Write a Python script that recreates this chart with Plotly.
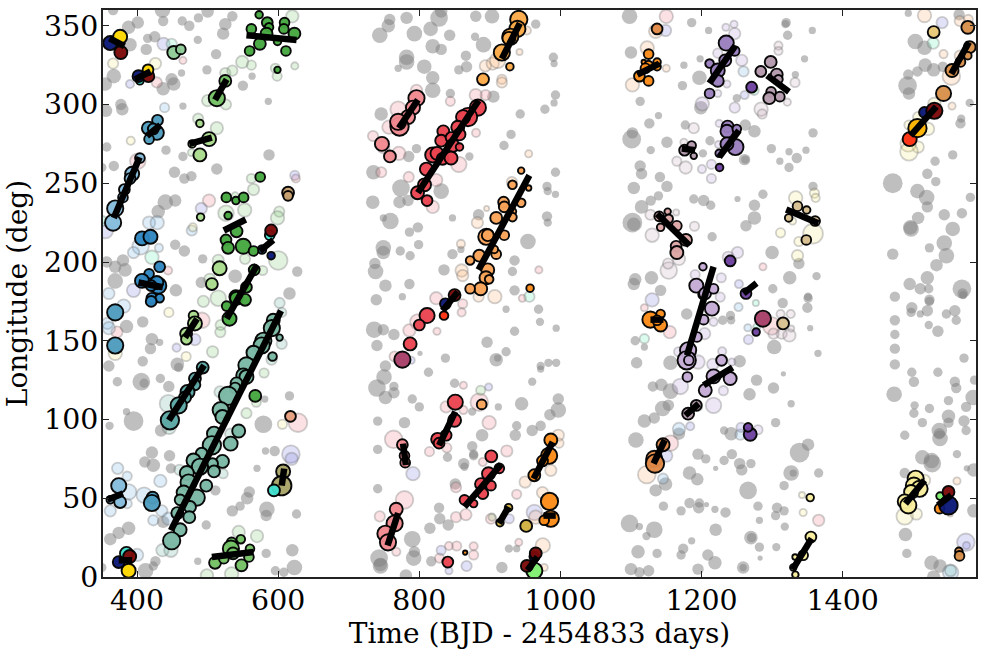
import plotly.graph_objects as go

# every entry: (time BJD-2454833, longitude deg, spot size)
GRAY = [
(366,360,10),(401,352,12),(388,349,13),(436,360,15),(437,353,10),(464,353,9),(474,350,10),(487,355,9),(500,359,12),(535,356,10),(525,351,12),(522,345,12),(415,342,9),(425,343,11),(390,338,13),(413,335,11),(486,341,8),(512,332,10),(499,322,9),(463,320,7),(449,316,12),(452,313,13),(437,310,13),(367,318,14),(355,313,13),(465,299,7),(377,300,11),(379,297,12),(356,296,12),(550,312,10),(563,318,7),(586,302,7),(441,271,9),(465,267,9),(357,273,9),(350,260,9),(367,261,10),(453,257,11),(467,253,10),(477,254.5,10),(513,259,11),(587,268,11),(454,239,12),(440,238,15),(430,232,13),(454,211,10),(467,207,11),(493,202,9),(539,191,13),(491,187,11),(455,182,12),(627,194,10),(616,180,12),(380,201,12),(383,195,13),(369,197,12),(357,200,11),(369,188,15),
(408,162,11),(385,159,13),(421,151,12),(432,149,7),(419,145,11),(408,137,10),(457,135,13),(459,133,9),(360,134,11),(372,124,9),(406,124,17),(410,123,9),(433,126,9),(445,121,11),(385,105,7),(395,99,19),(361,96,8),(434,93,12),(616,115,9),(581,113,7),(579,97,17),(421,79,12),(411,73,11),(423,71,13),(446,77,11),(448,69,10),(582,80,7),(595,80,10),(570,69,7),(511,55,10),(559,54,11),(556,50,12),(546,45,9),(535,42,11),(584,43,15),(583,39,11),(626,40,9),(437,35,12),(388,31,13),(374,28,12),(362,24,12),(498,33,9),(426,10,10),(412,4,15),(423,7,9),(583,15,9),(620,17,12),(623,6,15),(486,10,7),(596,4,9),(608,3,9),(350,6,9),
(758,354,11),(756,350,13),(744,344,15),(782,355,12),(793,345,15),(816,348,14),(828,355,17),(831,359,12),(843,344,11),(880,356,11),(903,356,14),(879,343,8),(891,338,15),(965,351,9),(819,337,14),(831,335,11),(782,330,15),(782,327,15),(807,324,14),(770,323,7),(866,331,10),(867,324,11),(856,322,9),(819,317,13),(819,309,15),(990,330,9),(991,326,7),(746,294,13),(844,307,9),(905,305,12),(993,306,9),(991,301,7),(978,297,9),(943,294,9),(796,272,9),(785,267,11),(871,267,8),(920,274,9),(930,281,9),(993,257,9),(735,257,14),(774,247,17),(831,245,15),(981,248,9),(982,245,8),(993,243,7),(734,238,13),(772,238,12),(784,239,11),(847,228,7),(884,230,11),(759,226,16),(749,228,7),(981,229,10),(982,225,8),(786,219,9),(798,222,10),(954,213,15),(749,209,15),(749,206,13),(773,207,9),(787,204,9),(799,211,9),(847,205,10),(859,208,7),(935,201,10),(737,199,11),(738,194,15),(932,194,9),(835,195,11),(752,185,12),(786,186,10),(935,182,10),(776,178,7),(739,176,11),
(969,170,9),(923,170,7),(971,162,8),(994,158,7),(736,157,16),(749,157,11),(764,154,11),(740,147,11),(935,156,9),(896,149,11),(923,143,9),(801,142,5),(837,139,9),(909,138,13),(911,139,7),(752,134,11),(750,127,15),(813,130,9),(972,134,8),(972,132,7),(983,136,8),(994,136,8),(960,124,8),(740,120,17),(764,121,9),(764,117,11),(752,114,13),(850,123,9),(790,113,9),(800,108,9),(945,110,13),(997,113,11),(997,106,15),(985,103,11),(912,108,7),(875,105,8),(741,99,9),(779,98,11),(972,96,10),(960,93,11),(938,96,9),(936,90,11),(889,90,12),(741,81,9),(840,76,9),(875,83,10),(877,78,9),(877,77,9),(863,72,11),(864,70,8),(851,59,11),(741,56,9),(828,44,10),(829,37,11),(841,33,11),(815,31,11),(790,24,16),(793,16,11),(792,12,15),(743,12,17),(745,8,13),(745,7,15),(817,10,10),(927,18,8),(938,18,7),(917,6,11),(781,1,12),
(1098,356,15),(1186,352,9),(1210,347,7),(1320,352,9),(1319,351,8),(1322,344,9),(1357,347,7),(1100,333,12),(1198,329,7),(1346,329,7),(1175,325,7),(1197,317,14),(1173,312,9),(1333,319,7),(1113,302,9),(1199,298,13),(1250,304,8),(1139,293,7),(1126,288,10),(1102,282,11),(1101,278,18),(1177,287,9),(1151,276,11),(1128,271,8),(1212,277,9),(1202,269,8),(1275,283,12),(1262,287,11),(1261,265,11),(1262,265,8),(1358,282,9),(1299,272,9),(1311,264,7),(1324,270,7),(1335,266,10),(1348,271,7),(1324,260,9),(1113,261,11),(1115,256,11),(1141,254,10),(1151,248,11),(1104,247,12),(1128,239,10),(1139,242,9),(1115,235,13),(1189,240,9),(1203,239,11),(1213,236,9),(1251,240,6),(1287,243,9),(1275,236,11),(1275,228,13),(1263,223,11),(1102,225,19),(1104,224,13),(1215,216,9),(1358,248,9),(1300,206,13),(1338,199,11),(1325,190,13),(1363,191,8),(1106,189,12),(1104,186,12),(1129,190,13),(1142,182,11),(1301,183,9),(1351,178,8),
(1315,174,10),(1351,177,9),(1350,171,10),(1354,158,6),(1179,167,11),(1241,166,9),(1242,163,8),(1230,163,9),(1303,146,14),(1106,150,9),(1119,146,7),(1365,142,7),(1108,136,11),(1156,136,14),(1254,137,12),(1316,129,5),(1131,121,10),(1143,122,12),(1156,118,15),(1278,125,11),(1302,120,11),(1268,116,12),(1327,110,7),(1145,107,15),(1153,109,11),(1133,101,11),(1119,99,13),(1305,98,9),(1168,91,12),(1107,87,15),(1232,93,8),(1242,91,13),(1195,78,11),(1206,75,9),(1243,78,10),(1232,74,9),(1270,72,9),(1254,72,11),(1257,68,11),(1220,69,5),(1339,79,19),(1351,84,12),(1327,66,15),(1330,66,7),(1366,66,9),(1183,66,13),(1194,62,12),(1135,55,12),(1149,59,13),(1266,55,17),(1317,58,9),(1183,47,10),(1197,47,9),(1196,44,11),(1207,46,5),(1146,45,9),(1171,42,9),(1219,43,7),(1234,41,10),(1280,45,9),(1307,44,10),(1317,42,9),(1305,39,9),(1282,36,7),(1318,32,8),(1098,34,17),(1112,32,7),(1133,30,16),(1122,26,8),(1186,23,7),(1220,30,12),(1270,25,13),(1271,25,9),(1282,19,9),(1306,19,8),(1283,12,5),(1110,16,13),(1137,15,9),(1174,18,10),(1171,14,9),(1209,14,11),(1219,9,13),(1100,5,12),(1112,3,10),(1125,4,11),(1195,5,11),(1259,6,12),(1259,6,7),
(1493,358,7),(1503,340,15),(1516,336,14),(1565,357,11),(1517,325,13),(1529,322,13),(1542,324,10),(1506,321,10),(1493,319,10),(1492,312,18),(1494,307,12),(1580,301,8),(1568,291,8),(1567,288,10),(1556,268,9),(1531,264,9),(1520,256,10),(1532,251,9),(1471,250,19),(1506,245,14),(1519,241,15),(1520,235,11),(1581,241,9),(1569,231,10),(1507,228,12),(1544,230,11),(1496,222,14),(1497,221,15),(1556,221,14),(1544,212,15),(1523,209,9),(1547,204,15),(1471,205,11),(1533,198,12),(1520,190,13),(1495,186,12),(1510,183,11),(1522,183,9),(1569,183,18),(1570,180,10),(1571,179,8),(1474,178,10),(1523,176,10),
(1498,171,11),(1497,168,9),(1510,167,7),(1520,169,11),(1523,175,9),(1547,167,9),(1559,169,11),(1561,163,9),(1522,160,8),(1535,156,11),(1474,163,10),(1474,154,9),(1474,145,10),(1474,135,10),(1572,139,9),(1498,130,9),(1535,130,9),(1501,124,10),(1559,124,10),(1561,120,10),(1473,116,15),(1587,125,9),(1585,114,15),(1550,112,9),(1575,108,10),(1502,109,8),(1523,107,9),(1501,104,9),(1550,102,13),(1550,98,10),(1572,99,11),(1513,98,9),(1575,93,9),(1488,90,9),(1537,93,15),(1538,88,15),(1537,91,11),(1562,78,8),(1513,76,14),(1526,74,15),(1527,72,17),(1576,69,6),(1586,68,13),(1488,66,10),(1586,42,13),(1489,27,13),(1491,15,9),(1526,9,14),(1538,7,13),(1529,0,13),
]

FAINT_PINK = [(401,264,15),(428,314,10),(465,328,7),(502,239,12),(625,253,8),(371.5,155.5,11),(492,163,15),(444,194.6,8),(628,98,18),(770,297,15),(796,309,11),(757,285.6,13),(844,302,9),(734.4,280,10),(749,273,12),(771,269,13),(746,257,10),(785,254,10),(819,235,12),(824,252,12),(856,262,15),(880.4,282,8),(880,306,12),(894,306,10),(786,156.6,12),(798,162,15),(765,140,10),(861.5,173.5,9),(860,168,8),(825,156,7),(838,108,11),(862.5,106,8),(862.5,121.7,7),(763.6,87.4,17),(839,82,9),(814.4,79.6,9),(899,98,13),(885,111,17),(924,80,11),(890,73,8),(852,57,10),(852,38,10),(866,39.6,11),(877,19.5,8),(779,49,17),(744,38.5,10),(767.4,16,8),(901.6,37,10),(938,52.5,9),(941,22,7),(842,19.7,8),(853,19.7,9),(828.6,12,9),(877,14,9),(946,177,7),(969.4,195,7),(1150,356,13),(1155,155.5,12),(1119,171,7),(1156,85,15),(1287,197,7),(1299.5,159.4,17),(1284,321,10),(1366,36,11),(824,177,12)]
FAINT_ROSE = [(1189,285,10),(1175,276,7),(1165,264,9),(1177.5,260,12),(1127.6,230,10),(1164,231.4,6),(1190,222.7,9),(1130,217,13),(1168,202,12),(1153.5,194.6,16),(1152.6,199,10),(1309,337.4,8),(1309,334,8),(1332.5,314,9),(1321.6,301.5,7),(1284.4,297,13),(1286,294,9),(1313.6,154.5,10),(1324.5,153.4,12),(1312,167,8),(1326.4,167,8),(1327,157.7,6),(1302,154.5,10)]
FAINT_BLUE = [(439,298,9),(405,210,16),(395,206,11),(417,225,12),(428.5,225,13),(431,209,8),(360,180,11),(381,172,13),(477.5,220,10),(372.5,69,11),(386,64,9),(388,54,15),(362,42,11),(386,46.6,9),(410,52,15),(400,14,12),(433,61,12),(435,42,11),(423,36,10),(444.5,37,12),(1259.5,321,10),(1252.4,171.4,8),(1265.6,158.3,7),(1168,94,12),(1255,90.4,10),(1553,3,15),(1145.5,62.4,10),(358,161,11),(360,158,12)]
FAINT_LAV = [(355,220,15),(395,182,13),(437.5,338.5,12),(390,313,8),(491,234,11),(623.5,255,9),(482,150.7,11),(456,145.6,8),(618,78,17),(619,75,12),(788.5,137.6,7),(898.3,120.6,7),(791,65.6,13),(927.5,37,9),(963,41,15),(831,17,9),(867,7,10),(842,4,7),(1149,347,11),(1261,306,8),(1253,186,8),(1130,176,13),(1266.5,150.7,9),(1184,95.7,8),(1256,95,9),(1150,77,12),(1541,352,11),(1574.6,22,17),(1575.5,20,7)]
FAINT_YELLOW = [(391,277,8),(366,326,10),(426,326,11),(479,222,8),(369,142,13),(445,168,9),(469.5,140,9),(606,97,9),(1342.4,52,6),(1344,41,7),(1494,287,9),(1507,292,10),(1521,284.5,12),(1507,273,11),(1493,275,15),(1494,270,17),(1530,300.4,12),(1516,61.4,11),(1488,38.5,16),(1504.4,40,11),(1333.4,240.7,13),(1360,243.7,9),(1361.7,240.7,8),(1329,226,7),(1358,218,19),(1312,218.5,9),(1338,213,9),(1336,204,11)]
FAINT_MINT = [(350,226,10),(449,338.5,10),(421,203,13),(956,178,10),(1274.5,309,9),(1277,174,6),(1278.3,158.7,7),(1119,151.3,9),(1195,108,8),(1528.4,339,11)]
FAINT_GREEN = [(500,302.5,11),(526,300,10),(525,320,10),(535,321.5,10),(549,327,12),(562,325,9),(620,356,12),(596,323,9),(598.5,318,9),(623.5,324.5,7),(486.5,291,10),(513,285,12),(477,269.5,7),(526,231,15),(552.5,233,13),(565,246,11),(562,253,9),(539,242,7),(601.5,232,10),(599,228,13),(600,201,18),(553,202,10),(515,201,11),(503,189,11),(515,177,15),(578,194.6,9),(494,175,11),(518.5,160,10),(518,155.5,10),(507,143,11),(555,104,10),(569,111,9),(580,129.5,9),(544,28.6,12),(570,26,12),(534,2,13),(499,1,12),(887,118.5,9),(903,38,7)]
FAINT_TEAL = [(444.5,110,17),(445.5,95,13),(602,174,10),(605,168,9),(605,148,10),(590.6,138,10),(517.6,117.5,11),(532,91,10),(460,68,10),(522,65.6,9),(436,17,12),(448,17,13),(1553,4,11)]
FAINT_PEACH = [(952.4,347,8),(942,333.4,6),(893.6,324.5,11),(904,326,12),(911,328,15),(917,316,9),(917,314,10),(931.2,250.7,10),(895.4,234,5),(882.3,225,11),(859,211.5,8),(860,194.6,12),(861.5,191.4,11),(955,268.7,7),(907,178,13),(884,178,10),(997,90,11),(998,85,9),(986.4,67.7,11),(950,60.3,11),(974.6,53.6,11),(965,38,13),(975,20,14),(977,6,7),(1135,346.5,13),(1123,336,13),(1102,312.5,13),(1150,323,7),(1122.4,65,17),(1543,332,8),(1566,353,10),(1578,354,9),(1554,318,17),(1566,331,10),(1555,299,7),(1562,61,7),(1552.5,40,5),(1516,356.5,13)]
FAINT_PURPLE = [(1247,345,11),(1234.5,349,7),(1246,351,7),(1223,332.6,9),(1257,328,11),(1236,313,7),(1223,307,7),(1201,300.4,13),(1247,298,10),(1225,288,7),(1224,274.6,7),(1214,262,9),(1200.6,259,8),(1214,253,9),(1251,206,11),(1238,203,11),(1191,192,9),(1228,190,9),(1226.5,177.7,9),(1217,162,8),(1204.4,154.5,11),(1167.6,143,9),(1195,136.5,13),(1216,135,11),(1229.3,143.3,8),(1243,136.5,7),(1231,118.3,9),(1170,121,15),(1217,109,15),(1280,93.5,9)]

YELLOW = [(376,343,13),(415.5,322,10),(388,4,13)]
NAVY = [(362,339,13),(402,318,11),(590,204,7),(374,9.5,11),(837,173.5,10),(963,13,9),(1516,295,10),(1550,45.5,17)]
DARKRED = [(377,333,12),(416,318,11),(590,220,11),(389.5,13,12),(850,179,11),(965,15,11),(952.4,7,11),(1530,296,15),(1550,54,11)]
TURQUOISE = [(404,315,7),(588,217,9),(385,15,12),(594,55,11)]
MINTGREEN = [(452,333,12),(462,335,9)]
SKY = [(404,266,9),(393,256,13),(390,253,10),(382,246,10),(380,241,9),(369,234,15),(366,225,15),(374,58,14),(362,49,7),(376,47.6,11)]
STEEL = [(369,168,15),(369,147,15),(429,290,10),(416,285,12),(428,282,13),(417,278,9),(423,284.5,10),(422,50.4,11),(421,47,15)]
BLUE = [(407,215,13),(419,216,13),(432,197,10),(417,192.5,9),(407,188,13),(430,185,15),(428,187,12),(420,185,10),(421,177,10),(432,177,8),(420,175,10),(577,208,8)]
PALEGREEN = [(489,288,7),(502,278,13),(478,275,7),(489,268,12),(490,228.5,7),(517,196,13),(506,186,11),(480,166,9),(482,161,13),(469.5,154.5,11),(470,151,10)]
MIDGREEN = [(513,304,15),(525,315,11),(534,22,9),(547,24,8),(533,18,15),(536,15,11),(560,18,8),(510.5,9,11),(523,11.6,9),(548,7.4,11),(558.5,12.7,9)]
GREEN = [(573,357,7),(562,348,9),(584.5,352,10),(587,349,8),(609,352,9),(608,348,9),(623,345,11),(583.5,345,11),(574,338.5,11),(559.5,334,9),(599,340,7),(611,334,9),(599,322,6),(574.5,254,9),(526.5,241,9),(540,239,7),(551,241,9),(529,229.5,7),(541,219.5,11),(526,214,10),(529,209,11),(550.5,210,14),(565,207,9),(566,195,10),(540,178,12),(555,184,10),(527,172,9),(541,177,12),(553,176,11),(531,164,13),(567.5,115,11)]
TAN_LEFT = [(614,244,11),(614,242,9)]
TEAL = [(493,133,11),(482,126,11),(482,122,10),(471.5,117.5,13),(468,114,11),(459,109,15),(446.5,99.5,17)]
SEAGREEN = [(593,163,12),(591,158,15),(602,152,6),(579,150,15),(576.5,147,15),(565,142.4,13),(592,140,8),(555,134.4,15),(550.5,128,13),(555,127,13),(541,123,11),(539,120,10),(529,115,17),(518.5,106,15),(521,101.6,13),(544,92.7,12),(509,91,13),(532.6,84.7,13),(506,83.6,17),(491.6,78.3,11),(480,74,13),(521,73.4,12),(507,72,10),(489,70,15),(509,67,11),(470.5,66,13),(473,60,15),(498,58,11),(466,53.6,13),(484.6,50.4,15),(461,49,10),(475,44.5,11),(457,40.6,11),(474,38,11),(461,30,12),(449,23,16)]
SALMON = [(617.4,102,10)]
OLIVE = [(607,67,13),(605,58,18)]
PINK = [(796,304,15),(791,298,13),(784,292,13),(772,286,17),(770,289,15),(747,275,13),(758.4,267,11),(776,84,10),(779,77,9),(780,72.6,9),(767.3,43,12),(765,34,15),(752,27.5,15),(755.6,22,15)]
RED = [(883,298,15),(869,292,17),(862,292,13),(854.5,285.6,12),(857,281,11),(834,283,11),(831,277,11),(845,279,10),(847.4,274,12),(857,273,7),(819,268,14),(825,269,12),(833,265.5,11),(845,266,12),(810,259,12),(807.4,249,12),(797.5,244,12),(811,239,10),(811,166,14),(800,160,10),(787,148,12),(851,111,14),(850,99.5,12),(838,90,10),(826,87.4,12),(828,85,10),(902,76.6,11),(913.4,69,9),(898,65.6,12),(887.4,59,11),(901.6,58,9),(890,53,10),(864,49,9),(877,46.6,7),(840.4,9.5,10)]
MAROON = [(776,138,15),(1287,164,15)]
BRIGHTRED = [(835,166,8),(1495,278,13)]
AMBER = [(941,354,16),(939,348,15),(929,343,15),(927,342,12),(917,333,15),(928.4,324,7),(890.3,316,11)]
LIGHTORANGE = [(944.4,258,6),(932,249,8),(955,247,5),(944.4,237.6,8),(919.5,238,10),(920.4,235,10),(932,232,7),(932,228.5,8),(909,228,11),(895,216,15),(897,217,11),(920.4,217,9),(909,205,9),(885,204,11),(872,201,8),(906.3,208,7),(897,195,12),(894.5,190,12),(899,189,8),(887,183,12),(872,183,9),(888.4,109.6,9)]
ORANGE = [(984.5,48,16),(986.4,37,15),(977,36,9),(986.4,87,12),(984,77,15),(974.6,73.7,10),(963,64.6,11),(957,183.4,7),(1125,332,9),(1118,327,4),(1137,327,7),(1125,325,8),(1112,318,10),(1125,315,9),(1120.5,323,9),(1137,324,7),(1127.6,163.4,15),(1142,167,8),(1142,160,12),(1137,163,9),(1537.4,43.4,9),(865,15.5,4)]
GOLD = [(926.5,44,7),(914.3,34.5,7),(951.5,32.4,11)]
LIME = [(963,4,15),(1538,51.4,7)]
BROWN = [(1137,348,10),(1145.5,84,12),(1133,75,15),(1134,72,17)]
PURPLE = [(1235,339,14),(1247,334,9),(1211.4,326,8),(1233.6,328,11),(1223,321.6,13),(1223,315,11),(1211.4,307,9),(1237,286,11),(1236,283,12),(1250,284.5,8),(1248,273,15),(1236,275,12),(1225,269,7)]
DEEPPURPLE = [(1271,311,10),(1225.6,260,7),(1240.6,200.7,10),(1263,180,10),(1277.4,155.5,7),(1269,90.6,12),(1266,95,8)]
MAUVE = [(1298,327,11),(1284,321,10),(1306.6,319,11),(1309,316,8),(1298.6,308,9),(1296,304,11),(1311,305,9),(1176,271,10),(1186,274,8),(1189,267.4,6),(1192.6,109,10),(1181,103.7,11)]
ROSE = [(1140,229,9),(1152,232,6),(1153.5,227.4,8),(1142,222,7),(1165,223,9),(1178,214,11),(1164,210,10),(1165,206,12)]
TAN = [(1336,235.4,9),(1349,233,7),(1323.5,228,7),(1361,226,9),(1348.5,214,9),(1315.5,161,11)]
LILAC = [(1214.7,170.4,13),(1203,163.4,9),(1193.5,152.4,9),(1181,144,15),(1179,137.6,17),(1182,137.6,9),(1203,179.5,10),(1202,197,7),(1192.6,185,13),(1205,180,11),(1217,183,9),(1228.4,137.6,10),(1217,127.4,13),(1240.6,126,12),(1205.3,118.5,12),(1180,127,9)]
PALEYELLOW = [(1354,50.4,7),(1355,25.4,10),(1344,13.8,9),(1332.5,12.7,5),(1330,6,6),(1333,1.5,6),(1503.5,62.4,15),(1501,58,15),(1509,56,15),(1497,54,13),(1488,48,13),(1493,45.5,15)]
SAND = [(1529,346,11)]
COPPER = [(1577.4,349,12),(1580,336.4,11),(1577.4,331,7),(1567,327,9),(1555,321.6,12),(1543,307,14),(1564.7,16.3,7),(1565.6,13.4,9)]
SUNNY = [(1506,285,17)]

# fitted tracks: (time0, lon0, time1, lon1)
TRACKS = [
(361,342,382,337),(397,316,419,321),(414,280,433,287),(474,275,506,279),(510.5,303,527,316),(555,344,626,341),
(403.6,266.5,367,228),(402,187,436.5,184),(523,220,554,227),(574,207,593,214),(570,198,527,164),
(485,164,468,152),(495,134.4,445,99.5),(604,169,448,29.6),(358,49,380,53),(374,10.6,393,10.6),(506,12.7,565,15.9),(608.5,68.8,605,58),
(798,303,771,285),(884,302.5,798,244),(942.5,351.6,917,329),(956,255,884,195),(833,169,854.5,181),(851,105,828,83.6),(916,71.5,864,44.5),
(777,84.7,781,71),(770,40.6,755,20),(989,85.7,962,62.4),(976,39,993.4,39),(926.5,44.5,913,34),(953.4,4.3,967.5,12.7),
(1109,319,1140,326),(1248,337.4,1211,313.5),(1293,318.4,1324,308),(1253,283.5,1225,266.6),(1172,272,1191,271),(1137,230.6,1183,210.5),(1320,233.3,1365.5,224.6),
(1217,197,1179.4,140.7),(1259.5,180,1278,186.6),(1127.6,163.4,1146,163.4),(1203,121.7,1244,133),(1177,102.6,1196,110),(1148,87,1132,72),(1356,24.4,1329,4.7),
(1579,339.5,1554,319.4),(1496.4,280.3,1532.7,298.7),(1516,61.4,1489,46.6),(1535,45.5,1554,52),
]
X_TICKS = [400, 600, 800, 1000, 1200, 1400]
Y_TICKS = [0, 50, 100, 150, 200, 250, 300, 350]
X_TITLE = "Time (BJD - 2454833 days)"
Y_TITLE = "Longitude (deg)"

FONT = "DejaVu Serif"
fig = go.Figure()


def cols(rows):
    return [r[0] for r in rows], [r[1] for r in rows], [r[2] for r in rows]


def add(rows, fill, edge, width, scale, alpha=1):
    x, y, s = cols(rows)
    fig.add_trace(go.Scatter(x=x, y=y, mode="markers", hoverinfo="skip", showlegend=False,
                             marker=dict(size=[v * scale for v in s], color=fill, opacity=alpha,
                                         line=dict(color=edge, width=width))))


add(GRAY, "rgba(128,128,128,0.5)", "rgba(128,128,128,0)", 0, 1.04)

for rows, rgb in [(FAINT_PINK, "240,130,140"), (FAINT_ROSE, "200,170,190"), (FAINT_BLUE, "120,180,225"),
                  (FAINT_LAV, "130,130,220"), (FAINT_YELLOW, "248,235,140"), (FAINT_MINT, "110,240,190"),
                  (FAINT_GREEN, "130,200,120"), (FAINT_TEAL, "110,180,165"), (FAINT_PEACH, "250,180,120"),
                  (FAINT_PURPLE, "180,155,215")]:
    add(rows, f"rgba({rgb},0.24)", "rgba(110,110,110,0.32)", 1.8, 1.04)

for rows, c in [(SEAGREEN, "#79b8a4"), (TEAL, "#5aa7a4"), (SKY, "#86bcdc"), (STEEL, "#4f9dbe"), (BLUE, "#2f86c0"),
                (PALEGREEN, "#a9dc8c"), (MIDGREEN, "#74c266"), (MINTGREEN, "#8ecb96"), (GREEN, "#45a83f"),
                (TAN_LEFT, "#c8a070"), (SALMON, "#e8a080"), (OLIVE, "#a8a468"), (PINK, "#f18a90"), (RED, "#ea4450"),
                (MAROON, "#a8406a"), (BRIGHTRED, "#ff3010"), (AMBER, "#fbaa48"), (LIGHTORANGE, "#f9a459"),
                (ORANGE, "#fb8c18"), (GOLD, "#d0b040"), (BROWN, "#e08a48"), (PURPLE, "#9a7fbf"),
                (DEEPPURPLE, "#6f42a0"), (MAUVE, "#b49aac"), (ROSE, "#dca6a6"), (TAN, "#d8c090"), (LILAC, "#c4abd6"),
                (PALEYELLOW, "#f9ee9c"), (SAND, "#e8c878"), (COPPER, "#d8904a"), (SUNNY, "#ffb400"),
                (TURQUOISE, "#40e0d0"), (LIME, "#80f070"), (NAVY, "#0b1878"), (DARKRED, "#7d0a0a"), (YELLOW, "#ffd700")]:
    add(rows, c, "black", 1.9, 1.08, 0.96)

tx, ty = [], []
for t0, l0, t1, l1 in TRACKS:
    tx += [t0, t1, None]
    ty += [l0, l1, None]
fig.add_trace(go.Scatter(x=tx, y=ty, mode="lines", hoverinfo="skip", showlegend=False,
                         line=dict(color="black", width=6.5)))

axis = dict(showgrid=False, zeroline=False, showline=True, linecolor="#222", linewidth=2, mirror="ticks",
            ticks="inside", ticklen=6, tickwidth=1, tickcolor="#222", tickfont=dict(family=FONT, size=28.4, color="black"))
fig.update_xaxes(range=[351.7, 1589], tickvals=X_TICKS, ticklabelstandoff=-3,
                 title=dict(text=X_TITLE, font=dict(family=FONT, size=28, color="black"), standoff=3), **axis)
fig.update_yaxes(range=[0, 360], tickvals=Y_TICKS, ticklabelstandoff=-3,
                 title=dict(text=Y_TITLE, font=dict(family=FONT, size=28, color="black"), standoff=8), **axis)
fig.update_layout(width=981, height=654, margin=dict(l=102.5, r=3, t=9.5, b=77.3),
                  paper_bgcolor="white", plot_bgcolor="white", showlegend=False)
fig.write_html("out.html", config={"displayModeBar": False},
               post_script="document.body.style.margin='0';document.documentElement.style.overflow='hidden';")
